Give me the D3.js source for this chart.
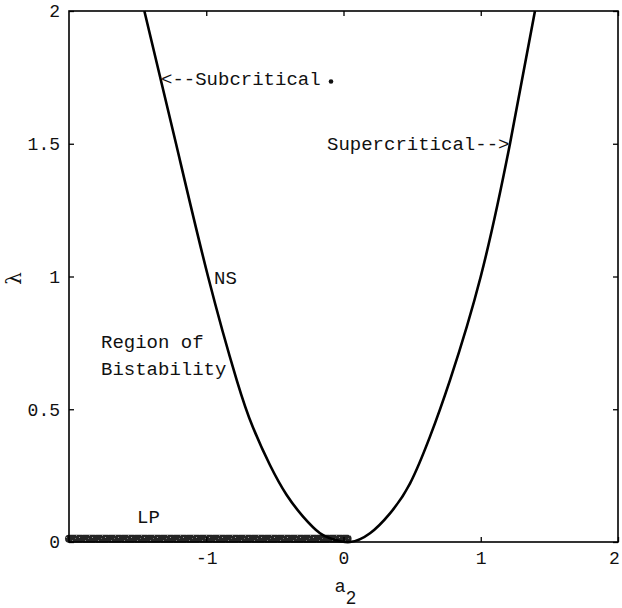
<!DOCTYPE html>
<html>
<head>
<meta charset="utf-8">
<script src="https://cdn.jsdelivr.net/npm/d3@7"></script>
<style>
  html, body { margin: 0; padding: 0; background: #fff; }
  svg { display: block; }
  .mono { font-family: "Courier New", "Liberation Mono", monospace; fill: #111; }
</style>
</head>
<body>
<svg id="chart" width="622" height="608"></svg>
<script>
// Neimark–Sacker (NS) boundary in the (a2, λ) plane, ordered by a2
const nsA      = [-1.451, -1.22, -0.987, -0.778, -0.66, -0.536, -0.414, -0.293, -0.171, -0.074, 0.047,
                  0.193, 0.339, 0.485, 0.630, 0.776, 1.0, 1.213, 1.395];
const nsLambda = [2.0, 1.5, 1.0, 0.610, 0.432, 0.290, 0.177, 0.095, 0.033, 0.010, 0.0,
                  0.033, 0.108, 0.221, 0.397, 0.610, 1.0, 1.5, 2.0];

// Limit point (LP) branch along λ ≈ 0
const lpA      = [-2, 0.03];
const lpLambda = [0.012, 0.012];

// Axis ticks
const xTicks = [-1, 0, 1, 2];
const xTickLabels = ["-1", "0", "1", "2"];
const yTicks = [0, 0.5, 1, 1.5, 2];
const yTickLabels = ["0", "0.5", "1", "1.5", "2"];

const svg = d3.select("#chart");
const margin = { left: 69, right: 4, top: 11, bottom: 66 };
const W = 622, H = 608;

const x = d3.scaleLinear().domain([-2, 2]).range([margin.left, W - margin.right]);
const y = d3.scaleLinear().domain([0, 2]).range([H - margin.bottom, margin.top]);

// speckled texture for the LP band
const defs = svg.append("defs");
const pat = defs.append("pattern").attr("id", "speckle")
  .attr("patternUnits", "userSpaceOnUse").attr("width", 13).attr("height", 8);
pat.append("rect").attr("width", 13).attr("height", 8).attr("fill", "#242424");
[[1, 1, "#9a9a9a"], [7, 4, "#7a7a7a"], [4, 6, "#5c5c5c"], [10, 2, "#6a6a6a"], [11, 7, "#888"]]
  .forEach(([px, py, c]) => pat.append("rect")
    .attr("x", px).attr("y", py).attr("width", 1).attr("height", 1).attr("fill", c));

// LP band
const lpLine = d3.line().x(d => x(d[0])).y(d => y(d[1]));
svg.append("path")
  .attr("d", lpLine(d3.zip(lpA, lpLambda)))
  .attr("fill", "none")
  .attr("stroke", "url(#speckle)")
  .attr("stroke-width", 8)
  .attr("stroke-linecap", "round");

// NS curve (λ as a smooth function of a2)
const nsLine = d3.line().x(d => x(d[0])).y(d => y(d[1])).curve(d3.curveNatural);
svg.append("path")
  .attr("d", nsLine(d3.zip(nsA, nsLambda)))
  .attr("fill", "none")
  .attr("stroke", "#000")
  .attr("stroke-width", 2.6)
  .attr("stroke-linejoin", "round");

// frame
svg.append("rect")
  .attr("x", x(-2)).attr("y", y(2))
  .attr("width", x(2) - x(-2)).attr("height", y(0) - y(2))
  .attr("fill", "none").attr("stroke", "#000").attr("stroke-width", 1.6);

// inward ticks on all four sides
const tickLen = 5;
const xAxisB = d3.axisBottom(x).tickValues(xTicks).tickSizeInner(-tickLen).tickSizeOuter(0)
  .tickFormat((d, i) => xTickLabels[i]).tickPadding(9);
const gx = svg.append("g").attr("transform", `translate(0,${y(0)})`).call(xAxisB);
gx.select(".domain").remove();
gx.selectAll("text").attr("class", "mono").style("font-size", "18px").attr("dy", "0.71em");
gx.selectAll("text").filter(d => d === 2).attr("dx", -4);
gx.selectAll("line").attr("stroke", "#000").attr("stroke-width", 1.3);

const xAxisT = d3.axisTop(x).tickValues(xTicks).tickSizeInner(-tickLen).tickSizeOuter(0).tickFormat("");
const gxt = svg.append("g").attr("transform", `translate(0,${y(2)})`).call(xAxisT);
gxt.select(".domain").remove();
gxt.selectAll("line").attr("stroke", "#000").attr("stroke-width", 1.3);

const yAxisL = d3.axisLeft(y).tickValues(yTicks).tickSizeInner(-tickLen).tickSizeOuter(0)
  .tickFormat((d, i) => yTickLabels[i]).tickPadding(9);
const gy = svg.append("g").attr("transform", `translate(${x(-2)},0)`).call(yAxisL);
gy.select(".domain").remove();
gy.selectAll("text").attr("class", "mono").style("font-size", "18px");
gy.selectAll("line").attr("stroke", "#000").attr("stroke-width", 1.3);

const yAxisR = d3.axisRight(y).tickValues(yTicks).tickSizeInner(-tickLen).tickSizeOuter(0).tickFormat("");
const gyr = svg.append("g").attr("transform", `translate(${x(2)},0)`).call(yAxisR);
gyr.select(".domain").remove();
gyr.selectAll("line").attr("stroke", "#000").attr("stroke-width", 1.3);

// axis titles
const xt = svg.append("text")
  .attr("x", x(0) + 2).attr("y", 592)
  .attr("text-anchor", "middle")
  .style("font-family", "'Liberation Sans', Arial, sans-serif")
  .style("font-size", "18px").attr("fill", "#111");
xt.append("tspan").text("a");
xt.append("tspan").attr("dy", 12).attr("dx", 1).text("2");

svg.append("text")
  .attr("transform", `translate(21,${y(1) + 2}) rotate(-90)`)
  .attr("text-anchor", "middle")
  .style("font-family", "'DejaVu Serif', serif")
  .style("font-size", "20px").attr("fill", "#111")
  .text("λ");

// annotations
const mono = (txt, px, py) => svg.append("text")
  .attr("class", "mono").attr("x", px).attr("y", py)
  .style("font-size", "19px").text(txt);

mono("<--Subcritical", 161, 85);
svg.append("circle").attr("cx", 331).attr("cy", 81.5).attr("r", 2.3).attr("fill", "#111");
mono("Supercritical-->", 327, 150);
mono("NS", 214, 284);
mono("Region of", 101, 348);
mono("Bistability", 101, 375);
mono("LP", 137, 523);
</script>
</body>
</html>
